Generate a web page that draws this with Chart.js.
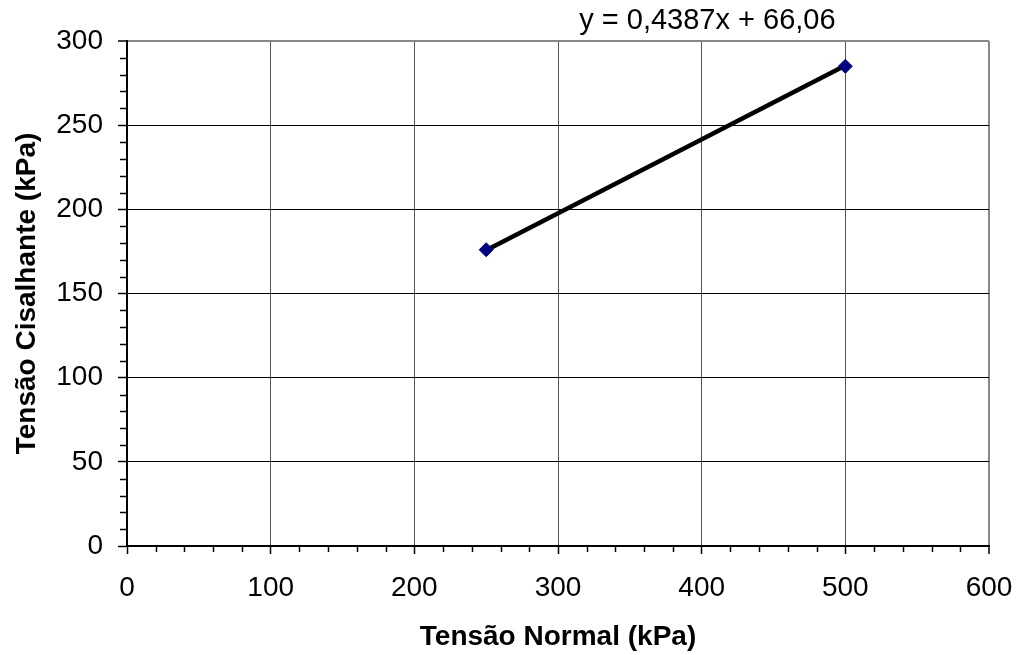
<!DOCTYPE html>
<html>
<head>
<meta charset="utf-8">
<script src="https://cdn.jsdelivr.net/npm/chart.js@4/dist/chart.umd.min.js"></script>
<style>
  html, body { margin: 0; padding: 0; background: #fff; }
  #wrap { width: 1017px; height: 655px; }
</style>
</head>
<body>
<div id="wrap"><canvas id="grafico"></canvas></div>
<script>
// dados do ensaio
const tensaoNormal = [250, 500];
const tensaoCisalhante = [176, 285];
const ticksX = [0, 100, 200, 300, 400, 500, 600];
const ticksY = [0, 50, 100, 150, 200, 250, 300];
const inclinacao = [0.4387];
const intercepto = [66.06];
const equacao = "y = 0,4387x + 66,06";

const FONTE = "'Liberation Sans', Arial, sans-serif";

// linha de tendência a partir da equação
const tendencia = tensaoNormal.map(x => ({ x: x, y: inclinacao[0] * x + intercepto[0] }));
const pontos = tensaoNormal.map((x, i) => ({ x: x, y: tensaoCisalhante[i] }));

// marcas secundárias e texto da equação
const extras = {
    id: "extras",
    afterDraw(chart) {
        const ctx = chart.ctx;
        const sx = chart.scales.x, sy = chart.scales.y;
        const area = chart.chartArea;
        ctx.save();
        ctx.strokeStyle = "#000";
        ctx.lineWidth = 1.5;
        for (let v = 20; v < 600; v += 20) {
            if (v % 100 === 0) continue;
            const px = Math.round(sx.getPixelForValue(v)) + 0.5;
            ctx.beginPath();
            ctx.moveTo(px, area.bottom);
            ctx.lineTo(px, area.bottom + 6);
            ctx.stroke();
        }
        for (let v = 10; v < 300; v += 10) {
            if (v % 50 === 0) continue;
            const py = Math.round(sy.getPixelForValue(v)) + 0.5;
            ctx.beginPath();
            ctx.moveTo(area.left - 7, py);
            ctx.lineTo(area.left, py);
            ctx.stroke();
        }
        ctx.fillStyle = "#000";
        ctx.font = "29px " + FONTE;
        ctx.textAlign = "center";
        ctx.textBaseline = "middle";
        ctx.fillText(equacao, sx.getPixelForValue(404), 21);
        ctx.restore();
    }
};

new Chart(document.getElementById("grafico").getContext("2d"), {
    type: "scatter",
    data: {
        datasets: [{
            label: "Tendência",
            data: tendencia,
            showLine: true,
            borderColor: "#000",
            borderWidth: 4.5,
            pointRadius: 0,
            pointHoverRadius: 0,
            order: 2
        }, {
            label: "Ensaio",
            data: pontos,
            pointStyle: "rectRot",
            pointRadius: 7,
            backgroundColor: "#000080",
            borderColor: "#000080",
            borderWidth: 1,
            order: 1
        }]
    },
    options: {
        responsive: true,
        maintainAspectRatio: false,
        animation: false,
        layout: { padding: { top: 41, right: 28, left: 0, bottom: 0 } },
        plugins: {
            legend: { display: false },
            tooltip: { enabled: false }
        },
        scales: {
            x: {
                type: "linear",
                min: 0,
                max: 600,
                afterBuildTicks: s => { s.ticks = ticksX.map(v => ({ value: v })); },
                afterFit: s => { s.height = 109; s.paddingLeft = 0; s.paddingRight = 0; },
                border: { display: true, color: "#000", width: 2 },
                grid: {
                    color: c => c.tick && c.tick.value === 600 ? "#888" : "#555",
                    lineWidth: c => c.tick && c.tick.value === 600 ? 2 : 1,
                    tickColor: "#000",
                    tickLength: 8,
                    tickWidth: 1.5
                },
                ticks: {
                    color: "#000",
                    font: { family: FONTE, size: 28 },
                    padding: 17,
                    maxRotation: 0
                },
                title: {
                    display: true,
                    text: "Tensão Normal (kPa)",
                    color: "#000",
                    font: { family: FONTE, size: 28, weight: "bold" },
                    padding: { top: 0, bottom: 1 }
                }
            },
            y: {
                type: "linear",
                min: 0,
                max: 300,
                afterBuildTicks: s => { s.ticks = ticksY.map(v => ({ value: v })); },
                afterFit: s => { s.width = 127; s.paddingTop = 0; s.paddingBottom = 0; },
                border: { display: true, color: "#000", width: 2 },
                grid: {
                    color: c => c.tick && c.tick.value === 300 ? "#888" : "#000",
                    lineWidth: c => c.tick && c.tick.value === 300 ? 2 : 1,
                    tickColor: "#000",
                    tickLength: 9,
                    tickWidth: 1.5
                },
                ticks: {
                    color: "#000",
                    font: { family: FONTE, size: 28 },
                    padding: 15
                },
                title: {
                    display: true,
                    text: "Tensão Cisalhante (kPa)",
                    color: "#000",
                    font: { family: FONTE, size: 28, weight: "bold" },
                    padding: { top: 10, bottom: 0 }
                }
            }
        }
    },
    plugins: [extras]
});
</script>
</body>
</html>
